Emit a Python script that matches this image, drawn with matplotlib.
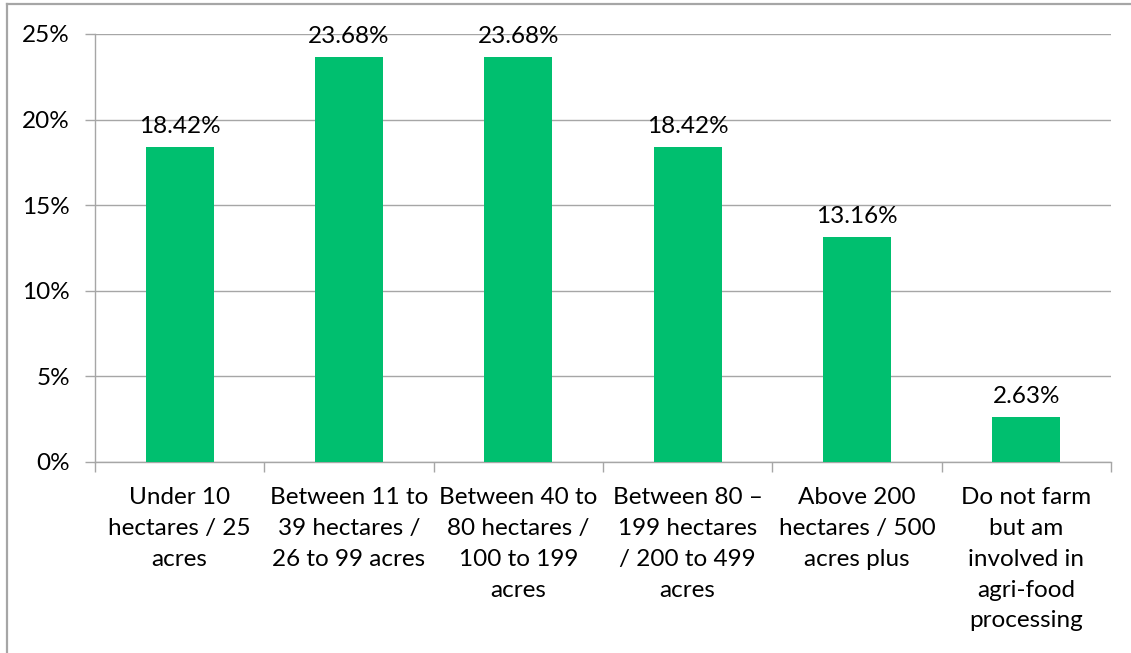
import numpy as np
import matplotlib.pyplot as plt
from matplotlib.lines import Line2D
from matplotlib.ticker import PercentFormatter

categories = ["Under 10\nhectares / 25\nacres",
              "Between 11 to\n39 hectares /\n26 to 99 acres",
              "Between 40 to\n80 hectares /\n100 to 199\nacres",
              "Between 80 \u2013\n199 hectares\n/ 200 to 499\nacres",
              "Above 200\nhectares / 500\nacres plus",
              "Do not farm\nbut am\ninvolved in\nagri-food\nprocessing"]
values = [18.42, 23.68, 23.68, 18.42, 13.16, 2.63]
yticks = [0, 5, 10, 15, 20, 25]

plt.rcParams['font.family'] = ['Lato', 'DejaVu Sans']
grey = '#A6A6A6'
fs = 17.5

fig = plt.figure(figsize=(11.31, 6.53), dpi=100)
ax = fig.add_axes([95/1131, 1 - 462/653, (1111 - 95)/1131, (462 - 34)/653])

x = np.arange(len(values))
bars = ax.bar(x, values, width=0.4, color='#00BF6F', zorder=3)

for xi, v in zip(x, values):
    ax.annotate(f"{v:.2f}%", (xi, v), xytext=(0, 7), textcoords='offset points',
                ha='center', va='bottom', fontsize=fs, zorder=4)

ax.set_xlim(-0.5, len(values) - 0.5)
ax.set_ylim(0, 25)
ax.set_yticks(yticks)
ax.yaxis.set_major_formatter(PercentFormatter(decimals=0))
ax.grid(axis='y', color=grey, linewidth=1, zorder=0)

ax.set_xticks(x)
ax.set_xticklabels(categories, fontsize=fs, linespacing=1.58, va='top')
ax.set_xticks(np.arange(-0.5, len(values)), minor=True)
ax.tick_params(axis='x', which='major', length=0, pad=18)
ax.tick_params(axis='x', which='minor', length=7, color=grey, width=1)
ax.tick_params(axis='y', length=7, color=grey, width=1, pad=11, labelsize=fs)

for s in ['top', 'right']:
    ax.spines[s].set_visible(False)
for s in ['left', 'bottom']:
    ax.spines[s].set_color(grey)
    ax.spines[s].set_linewidth(1)

# outer chart border (cropped on right and bottom)
fig.add_artist(Line2D([7/1131, 7/1131], [0, 1 - 4/653], color=grey, linewidth=1.6,
                      transform=fig.transFigure))
fig.add_artist(Line2D([7/1131, 1], [1 - 4/653, 1 - 4/653], color=grey, linewidth=1.6,
                      transform=fig.transFigure))

fig.savefig('out.png', dpi=100)
